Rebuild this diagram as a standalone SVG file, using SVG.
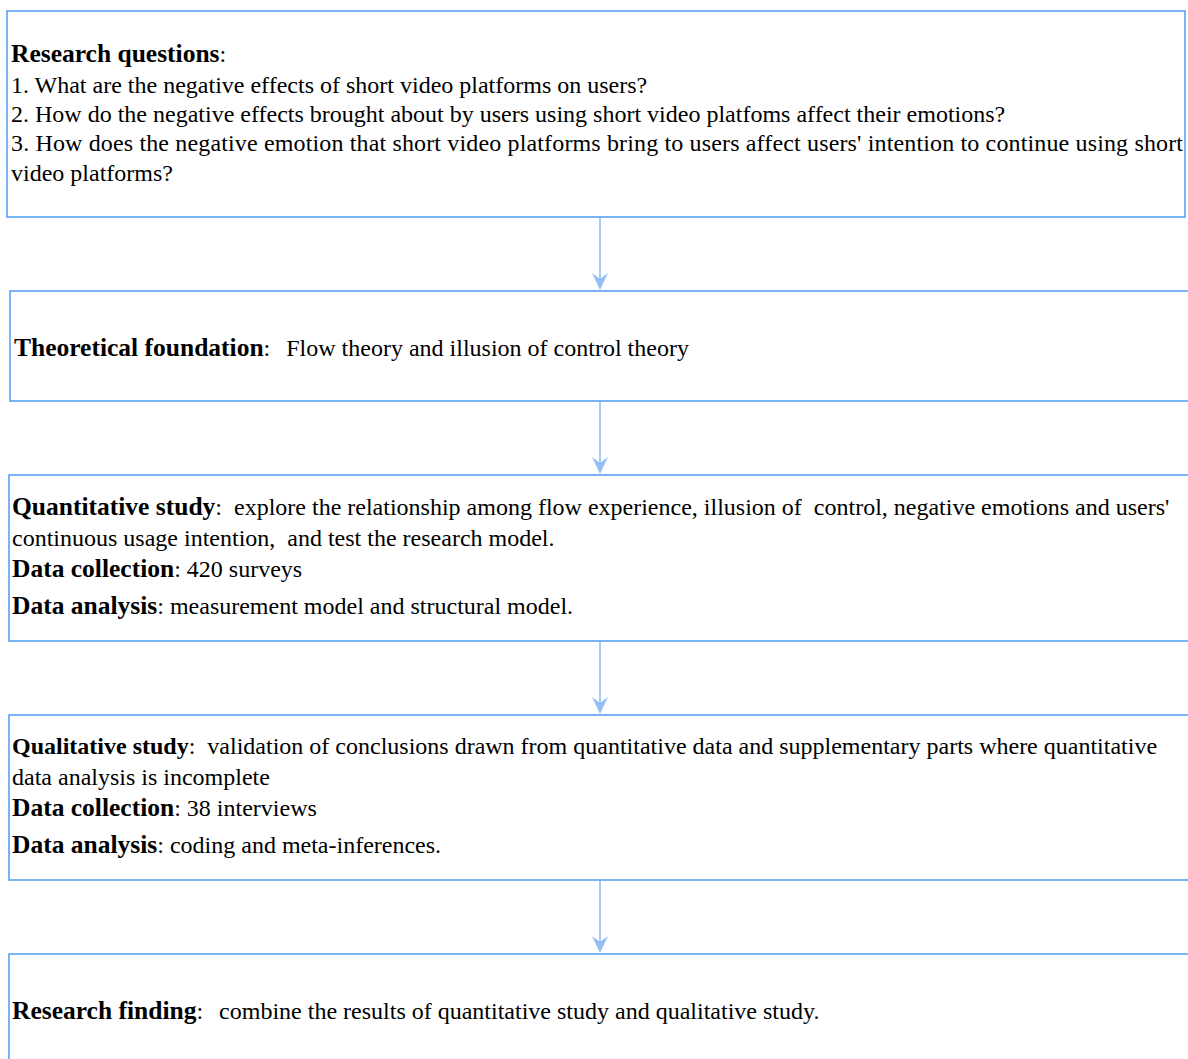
<svg xmlns="http://www.w3.org/2000/svg" width="1188" height="1059" viewBox="0 0 1188 1059">
<style>
.box{fill:#fff;stroke:#5aa2f4;stroke-width:1.6}
.t{font-family:"Liberation Serif","Times New Roman",serif;font-size:24px;fill:#000;white-space:pre}
.b{font-weight:bold;font-size:25.5px}
.b2{font-weight:bold;font-size:24px}
.conn{stroke:#93bff5;stroke-width:1.6;fill:none}
.ah{fill:#93bff5}
</style>
<rect width="1188" height="1059" fill="#fff"/>
<g id="connectors">
<line class="conn" x1="600" y1="217" x2="600" y2="282"/>
<path class="ah" d="M592,273 L600,279 L608,273 L600,290 Z"/>
<line class="conn" x1="600" y1="401" x2="600" y2="466"/>
<path class="ah" d="M592,457 L600,463 L608,457 L600,474 Z"/>
<line class="conn" x1="600" y1="641" x2="600" y2="706"/>
<path class="ah" d="M592,697 L600,703 L608,697 L600,714 Z"/>
<line class="conn" x1="600" y1="880" x2="600" y2="945"/>
<path class="ah" d="M592,936 L600,942 L608,936 L600,953 Z"/>
</g>
<g id="research-questions">
<rect class="box" x="7" y="11" width="1178" height="206"/>
<text class="t" x="11" y="62"><tspan class="b">Research questions</tspan>:</text>
<text class="t" x="11" y="93">1. What are the negative effects of short video platforms on users?</text>
<text class="t" x="11" y="122">2. How do the negative effects brought about by users using short video platfoms affect their emotions?</text>
<text class="t" x="11" y="151" textLength="1172" lengthAdjust="spacing">3. How does the negative emotion that short video platforms bring to users affect users' intention to continue using short</text>
<text class="t" x="11" y="181">video platforms?</text>
</g>
<g id="theoretical-foundation">
<rect class="box" x="10" y="291" width="1190" height="110"/>
<text class="t" x="14" y="356"><tspan class="b">Theoretical foundation</tspan>:<tspan dx="4">  Flow theory and illusion of control theory</tspan></text>
</g>
<g id="quantitative-study">
<rect class="box" x="9" y="475" width="1191" height="166"/>
<text class="t" x="12" y="515"><tspan class="b">Quantitative study</tspan>:  explore the relationship among flow experience, illusion of  control, negative emotions and users'</text>
<text class="t" x="12" y="546">continuous usage intention,  and test the research model.</text>
<text class="t" x="12" y="577"><tspan class="b">Data collection</tspan>: 420 surveys</text>
<text class="t" x="12" y="614"><tspan class="b">Data analysis</tspan>: measurement model and structural model.</text>
</g>
<g id="qualitative-study">
<rect class="box" x="9" y="715" width="1191" height="165"/>
<text class="t" x="12" y="754"><tspan class="b2">Qualitative study</tspan>:  validation of conclusions drawn from quantitative data and supplementary parts where quantitative</text>
<text class="t" x="12" y="785">data analysis is incomplete</text>
<text class="t" x="12" y="816"><tspan class="b">Data collection</tspan>: 38 interviews</text>
<text class="t" x="12" y="853"><tspan class="b">Data analysis</tspan>: coding and meta-inferences.</text>
</g>
<g id="research-finding">
<rect class="box" x="9" y="954" width="1191" height="120"/>
<text class="t" x="12" y="1019"><tspan class="b">Research finding</tspan>:<tspan dx="4">  combine the results of quantitative study and qualitative study.</tspan></text>
</g>
</svg>
